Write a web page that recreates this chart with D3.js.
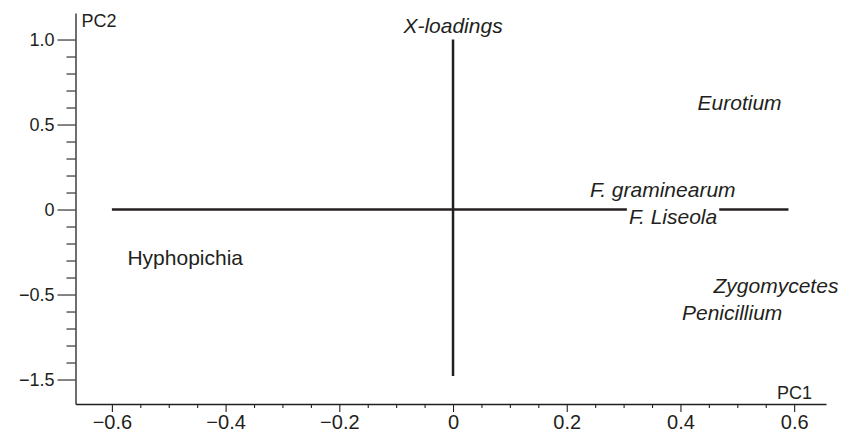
<!DOCTYPE html>
<html>
<head>
<meta charset="utf-8">
<script src="https://cdn.jsdelivr.net/npm/d3@7"></script>
<style>
  body { margin: 0; background: #fff; }
  svg { display: block; font-family: "Liberation Sans", Arial, Helvetica, sans-serif; }
</style>
</head>
<body>
<div id="chart"></div>
<script>
// loading labels (PC1, PC2)
var names = ["Eurotium", "F. graminearum", "F. Liseola", "Zygomycetes", "Penicillium", "Hyphopichia"];
var pc1 = [0.504, 0.369, 0.387, 0.568, 0.491, -0.471];
var pc2 = [0.626, 0.115, -0.044, -0.45, -0.609, -0.285];
var italic = [true, true, true, true, true, false];

// the loading cross
var hLine = [[-0.6, 0], [0.59, 0]];
var vLine = [[0, 1.0], [0, -0.98]];

// ticks
var xTicks = [-0.6, -0.4, -0.2, 0, 0.2, 0.4, 0.6];
var xTickLabels = ["\u22120.6", "\u22120.4", "\u22120.2", "0", "0.2", "0.4", "0.6"];
var xMinor = [-0.55, -0.5, -0.45, -0.35, -0.3, -0.25, -0.15, -0.1, -0.05, 0.05, 0.1, 0.15, 0.25, 0.3, 0.35, 0.45, 0.5, 0.55];
var yTicks = [1, 0.5, 0, -0.5, -1];
var yTickLabels = ["1.0", "0.5", "0", "\u22120.5", "\u22121.5"];
var yMinor = [0.9, 0.8, 0.7, 0.6, 0.4, 0.3, 0.2, 0.1, -0.1, -0.2, -0.3, -0.4, -0.6, -0.7, -0.8, -0.9];

var width = 841, height = 433;
var ink = "#231f20";

var svg = d3.select("#chart").append("svg")
    .attr("width", width)
    .attr("height", height);

var x = d3.scaleLinear().domain([-0.664, 0.656]).range([75.5, 826]);
var y = d3.scaleLinear().domain([-1.144, 1.156]).range([404, 13]);

// y axis
var yAxis = svg.append("g")
    .attr("transform", "translate(" + x.range()[0] + ",0)")
    .call(d3.axisLeft(y).tickValues(yTicks).tickSize(18).tickSizeOuter(0).tickPadding(3)
        .tickFormat(function(d, i) { return yTickLabels[i]; }));
svg.append("g")
    .attr("transform", "translate(" + x.range()[0] + ",0)")
    .call(d3.axisLeft(y).tickValues(yMinor).tickSize(9).tickFormat(""))
    .select(".domain").remove();

// x axis
var xAxis = svg.append("g")
    .attr("transform", "translate(0," + y.range()[0] + ")")
    .call(d3.axisBottom(x).tickValues(xTicks).tickSize(8).tickSizeOuter(0).tickPadding(3)
        .tickFormat(function(d, i) { return xTickLabels[i]; }));
svg.append("g")
    .attr("transform", "translate(0," + y.range()[0] + ")")
    .call(d3.axisBottom(x).tickValues(xMinor).tickSize(4).tickFormat(""))
    .select(".domain").remove();

svg.selectAll(".domain").attr("stroke", ink).attr("stroke-width", 1.3);
svg.selectAll(".tick line").attr("stroke", ink).attr("stroke-width", 1.1);
yAxis.selectAll("text").attr("font-size", 18).attr("fill", ink).attr("font-family", null);
xAxis.selectAll("text").attr("font-size", 20).attr("fill", ink).attr("font-family", null);

// axis titles
svg.append("text")
    .attr("x", x.range()[0] + 6).attr("y", 27)
    .attr("font-size", 18).attr("fill", ink)
    .text("PC2");
svg.append("text")
    .attr("x", 812).attr("y", 399)
    .attr("text-anchor", "end")
    .attr("font-size", 18).attr("fill", ink)
    .text("PC1");

// loading cross
var line = d3.line().x(function(d) { return x(d[0]); }).y(function(d) { return y(d[1]); });
[hLine, vLine].forEach(function(l) {
    svg.append("path")
        .attr("d", line(l))
        .attr("fill", "none")
        .attr("stroke", ink)
        .attr("stroke-width", 2.5);
});

svg.append("text")
    .attr("x", x(0)).attr("y", 33)
    .attr("text-anchor", "middle")
    .attr("font-size", 21).attr("font-style", "italic").attr("fill", ink)
    .text("X-loadings");

// labels
var labels = svg.append("g");
names.forEach(function(n, i) {
    var g = labels.append("g");
    var t = g.append("text")
        .attr("x", x(pc1[i])).attr("y", y(pc2[i]))
        .attr("dy", "0.35em")
        .attr("text-anchor", "middle")
        .attr("font-size", 21)
        .attr("font-style", italic[i] ? "italic" : "normal")
        .attr("fill", ink)
        .text(n);
    var b = t.node().getBBox();
    g.insert("rect", "text")
        .attr("x", b.x - 2).attr("y", b.y - 1)
        .attr("width", b.width + 4).attr("height", b.height + 2)
        .attr("fill", "#fff");
});
</script>
</body>
</html>
